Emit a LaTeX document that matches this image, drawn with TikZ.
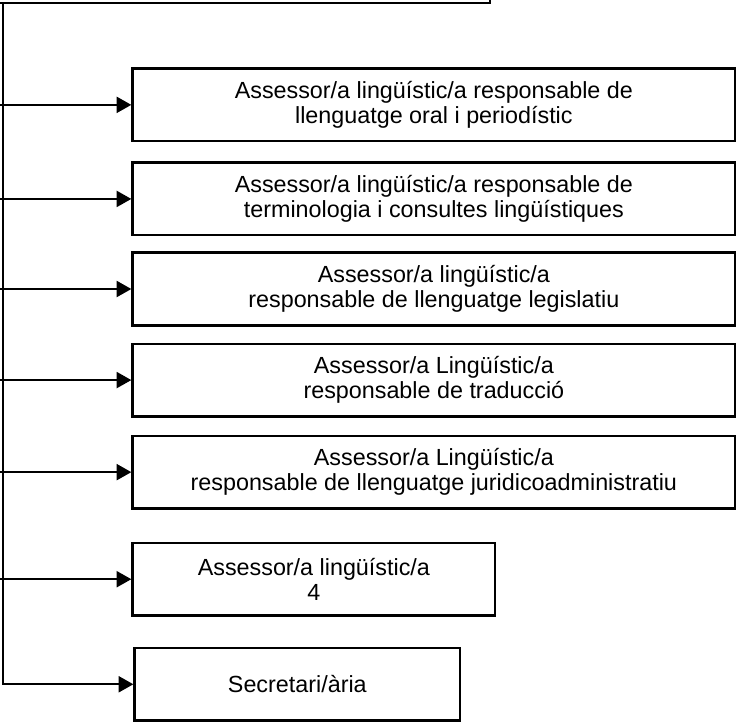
\documentclass[tikz,border=0pt]{standalone}
\usepackage{fontspec}
\setmainfont{Liberation Sans}
\usetikzlibrary{arrows.meta,positioning}
\definecolor{Ink}{HTML}{000000}
\tikzset{
  box/.style={draw=Ink,line width=1.8pt,minimum height=54.5pt,align=center,font=\fontsize{17.5}{19}\selectfont,text=Ink,inner sep=0pt},
  wide/.style={minimum width=452pt},
  arr/.style={-{Triangle[length=11pt,width=12pt]},draw=Ink,line width=1.5pt},
  trunk/.style={draw=Ink,line width=1.6pt}
}
\begin{document}
\begin{tikzpicture}
  \useasboundingbox (0,0) rectangle (555.75pt,-543pt);
  % head box, only its lower edge is on the page
  \node[draw=Ink,line width=1.8pt,minimum width=386.75pt,minimum height=40pt,anchor=south west] (head) at (-20pt,-3.2pt) {};
  \coordinate (top) at (2.25pt,-2.25pt);
  \coordinate (rim) at (0pt,0pt);

  \node[box,wide,anchor=north west] (b1) at (98.5pt,-50.5pt) {Assessor/a lingüístic/a responsable de\\llenguatge oral i periodístic};
  \node[box,wide,below=14.25pt of b1.south west,anchor=north west] (b2) {Assessor/a lingüístic/a responsable de\\terminologia i consultes lingüístiques};
  \node[box,wide,below=11.25pt of b2.south west,anchor=north west] (b3) {Assessor/a lingüístic/a\\responsable de llenguatge legislatiu};
  \node[box,wide,below=12pt of b3.south west,anchor=north west] (b4) {Assessor/a Lingüístic/a\\responsable de traducció};
  \node[box,wide,below=12.75pt of b4.south west,anchor=north west] (b5) {Assessor/a Lingüístic/a\\responsable de llenguatge juridicoadministratiu};
  \node[box,minimum width=272pt,below=24pt of b5.south west,anchor=north west] (b6) {Assessor/a lingüístic/a\\4};
  \node[box,minimum width=244.2pt,below=22.5pt of b6.south west,anchor=north west,xshift=1.5pt] (b7) {Secretari/ària};

  % trunk and branches
  \draw[trunk,arr] (top) |- (b7.west);
  \foreach \n in {b1,b2,b3,b4,b5,b6}
    \draw[arr] (rim |- \n.west) -- (\n.west);
\end{tikzpicture}
\end{document}
